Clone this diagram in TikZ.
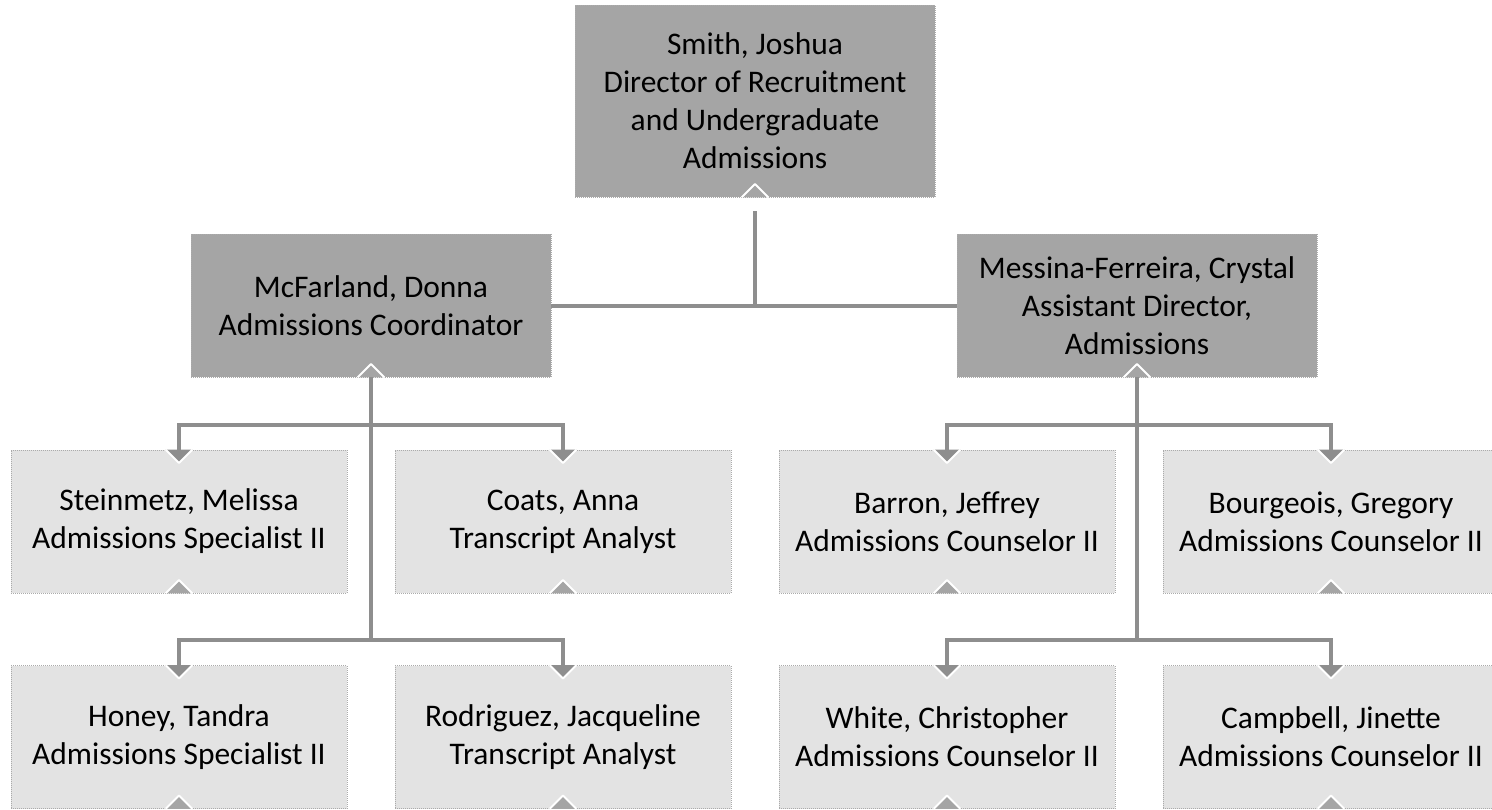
\documentclass[tikz,border=0pt]{standalone}
\usepackage{fontspec}
\setmainfont{Carlito}
\definecolor{boxdark}{HTML}{A5A5A5}
\definecolor{boxlight}{HTML}{E3E3E3}
\definecolor{linegray}{HTML}{8E8E8E}
\definecolor{edgegray}{HTML}{ABABAB}

\begin{document}
\begin{tikzpicture}[x=0.75pt,y=-0.75pt,
    person/.style={draw=edgegray,densely dotted,line width=0.5pt,align=center,inner sep=0pt,
      font=\fontsize{23.6}{28.5}\selectfont},
    headbox/.style={person,fill=boxdark,minimum width=270pt,minimum height=107.25pt},
    staffbox/.style={person,fill=boxlight,minimum width=252pt,minimum height=107.25pt},
    conn/.style={linegray,line width=3pt},
    notchline/.style={white,line width=1.5pt,line join=round}]
  \useasboundingbox (0,0) rectangle (1492,810);

  % Director
  \node[headbox,minimum height=144pt] (smith) at (755,101)
    {Smith, Joshua\\Director of Recruitment\\and Undergraduate\\Admissions};

  % Second level
  \node[headbox] (mcf) at (371,305.5) {McFarland, Donna\\Admissions Coordinator};
  \node[headbox] (mes) at (1137,305.5) {Messina-Ferreira, Crystal\\Assistant Director,\\Admissions};

  % Staff, first row
  \node[staffbox] (ste) at (179,521.5) {Steinmetz, Melissa\\Admissions Specialist II};
  \node[staffbox] (coa) at (563,521.5) {Coats, Anna\\Transcript Analyst};
  \node[staffbox] (bar) at (947,521.5) {Barron, Jeffrey\\Admissions Counselor II};
  \node[staffbox] (bou) at (1331,521.5) {Bourgeois, Gregory\\Admissions Counselor II};

  % Staff, second row
  \node[staffbox] (hon) at (179,737) {Honey, Tandra\\Admissions Specialist II};
  \node[staffbox] (rod) at (563,737) {Rodriguez, Jacqueline\\Transcript Analyst};
  \node[staffbox] (whi) at (947,737) {White, Christopher\\Admissions Counselor II};
  \node[staffbox] (cam) at (1331,737) {Campbell, Jinette\\Admissions Counselor II};

  % Notches at the bottom of every box
  \foreach \n in {smith,mcf,mes,ste,coa,bar,bou,hon,rod,whi,cam}{
    \fill[boxdark] ([xshift=-10pt]\n.south) -- ([yshift=10pt]\n.south) -- ([xshift=10pt]\n.south) -- cycle;
    \draw[notchline] ([xshift=-10pt]\n.south) -- ([yshift=10pt]\n.south) -- ([xshift=10pt]\n.south);
  }

  % Director to second level
  \draw[conn] ([yshift=-10.5pt]smith.south) -- (smith.south |- mcf.east);
  \draw[conn] (mcf.east) -- (mes.west);

  % McFarland's team
  \draw[conn] (mcf.south) -- ([yshift=18.75pt]mcf.south |- hon.north);
  \draw[conn] (ste.north) -- ([yshift=18.75pt]ste.north) -| (coa.north);
  \draw[conn] (hon.north) -- ([yshift=18.75pt]hon.north) -| (rod.north);

  % Messina-Ferreira's team
  \draw[conn] (mes.south) -- ([yshift=18.75pt]mes.south |- whi.north);
  \draw[conn] (bar.north) -- ([yshift=18.75pt]bar.north) -| (bou.north);
  \draw[conn] (whi.north) -- ([yshift=18.75pt]whi.north) -| (cam.north);

  % Arrow heads on the staff boxes
  \foreach \n in {ste,coa,bar,bou,hon,rod,whi,cam}{
    \fill[linegray] ([xshift=-10pt]\n.north) -- ([yshift=-10pt]\n.north) -- ([xshift=10pt]\n.north) -- cycle;
    \draw[notchline] ([xshift=-10pt]\n.north) -- ([yshift=-10pt]\n.north) -- ([xshift=10pt]\n.north);
  }
\end{tikzpicture}
\end{document}
